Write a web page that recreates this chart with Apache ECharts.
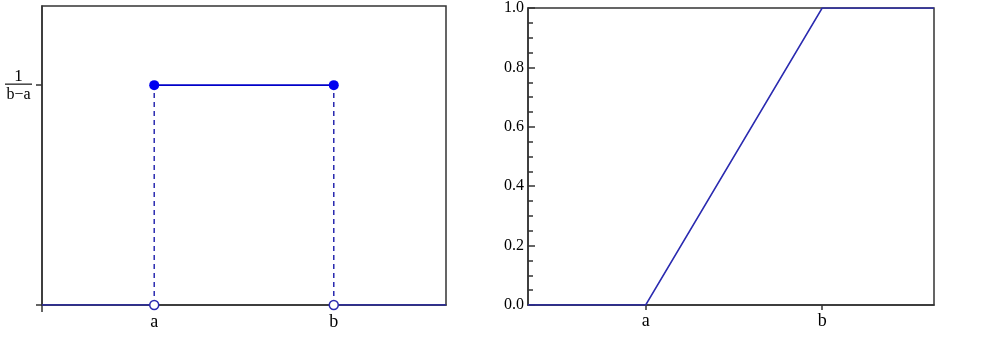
<!DOCTYPE html>
<html><head><meta charset="utf-8">
<script src="https://cdn.jsdelivr.net/npm/echarts@6/dist/echarts.min.js"></script>
<style>html,body{margin:0;padding:0;background:#fff}#c{width:1000px;height:344px}</style>
</head><body><div id="c"></div>
<script>
// ---- Left chart (PDF of uniform distribution) ----
const leftXRange = [0, 3.6];
const leftA = 1, leftB = 2.6;
const leftYMax = 1.36;
const pdfLevel = 1;            // value of 1/(b-a) on the plotted scale
const leftTopSegment = [[leftA, pdfLevel], [leftB, pdfLevel]];
const leftDashA = [[leftA, 0], [leftA, pdfLevel]];
const leftDashB = [[leftB, 0], [leftB, pdfLevel]];
const leftBaseLeft = [[leftXRange[0], 0], [leftA, 0]];
const leftBaseRight = [[leftB, 0], [leftXRange[1], 0]];
const leftOpenPoints = [[leftA, 0], [leftB, 0]];

// ---- Right chart (CDF) ----
const rightXRange = [0, 3.45];
const rightA = 1, rightB = 2.5;
const cdfPoints = [[0, 0], [rightA, 0], [rightB, 1], [3.45, 1]];

const serif = '"Liberation Serif","DejaVu Serif",serif';
const axisCol = '#333';
const lineBlue = '#2b2bb0';
const dotBlue = '#0000f0';

const chart = echarts.init(document.getElementById('c'));
chart.setOption({
  animation: false,
  grid: [
    { left: 42, top: 6, right: 554, bottom: 39, show: true, borderColor: axisCol, borderWidth: 1.5, backgroundColor: 'transparent' },
    { left: 528, top: 8, right: 66, bottom: 39, show: true, borderColor: axisCol, borderWidth: 1.5, backgroundColor: 'transparent' }
  ],
  xAxis: [
    { gridIndex: 0, type: 'value', min: leftXRange[0], max: leftXRange[1],
      axisLine: { show: true, onZero: false, lineStyle: { color: axisCol, width: 1.5 } },
      splitLine: { show: false },
      axisTick: { show: true, customValues: [leftXRange[0]], length: 7, lineStyle: { color: axisCol, width: 1.5 } },
      axisLabel: { customValues: [leftA, leftB], margin: 8, fontFamily: serif, fontSize: 18, color: '#000',
        formatter: v => (Math.abs(v - leftA) < 1e-9 ? 'a' : (Math.abs(v - leftB) < 1e-9 ? 'b' : '')) } },
    { gridIndex: 1, type: 'value', min: rightXRange[0], max: rightXRange[1],
      axisLine: { show: true, onZero: false, lineStyle: { color: axisCol, width: 1.5 } },
      splitLine: { show: false },
      axisTick: { show: true, customValues: [rightA, rightB], length: 5, lineStyle: { color: axisCol, width: 1.5 } },
      axisLabel: { customValues: [rightA, rightB], margin: 7, fontFamily: serif, fontSize: 18, color: '#000',
        formatter: v => (Math.abs(v - rightA) < 1e-9 ? 'a' : (Math.abs(v - rightB) < 1e-9 ? 'b' : '')) } }
  ],
  yAxis: [
    { gridIndex: 0, type: 'value', min: 0, max: leftYMax,
      axisLine: { show: true, lineStyle: { color: axisCol, width: 1.5 } },
      splitLine: { show: false },
      axisTick: { show: true, customValues: [0, pdfLevel], length: 6, lineStyle: { color: axisCol, width: 1.5 } },
      axisLabel: { customValues: [pdfLevel], margin: 10, color: '#000',
        formatter: () => '{n|1}\n{bar| }\n{d|b−a}',
        rich: {
          n: { fontFamily: serif, fontSize: 17, lineHeight: 16, padding: [4, 0, 0, 0], align: 'center' },
          bar: { fontSize: 1, width: 27, height: 1.2, lineHeight: 4, backgroundColor: '#111', align: 'center' },
          d: { fontFamily: serif, fontSize: 16, lineHeight: 18, align: 'center' }
        } } },
    { gridIndex: 1, type: 'value', min: 0, max: 1, interval: 0.2,
      axisLine: { show: true, lineStyle: { color: axisCol, width: 1.5 } },
      splitLine: { show: false },
      axisTick: { show: true, inside: true, length: 7, lineStyle: { color: axisCol, width: 1.5 } },
      minorTick: { show: true, splitNumber: 4, length: 5, lineStyle: { color: axisCol, width: 1.5 } },
      axisLabel: { margin: 4, fontFamily: serif, fontSize: 16, color: '#000', formatter: v => v.toFixed(1) } }
  ],
  series: [
    { type: 'line', xAxisIndex: 0, yAxisIndex: 0, data: leftBaseLeft, symbol: 'none', lineStyle: { color: lineBlue, width: 1.5 }, z: 3 },
    { type: 'line', xAxisIndex: 0, yAxisIndex: 0, data: leftBaseRight, symbol: 'none', lineStyle: { color: lineBlue, width: 1.5 }, z: 3 },
    { type: 'line', xAxisIndex: 0, yAxisIndex: 0, data: leftDashA, symbol: 'none', lineStyle: { color: lineBlue, width: 1.5, type: [5, 4] }, z: 3 },
    { type: 'line', xAxisIndex: 0, yAxisIndex: 0, data: leftDashB, symbol: 'none', lineStyle: { color: lineBlue, width: 1.5, type: [5, 4] }, z: 3 },
    { type: 'line', xAxisIndex: 0, yAxisIndex: 0, data: leftTopSegment, symbol: 'circle', symbolSize: 10, showAllSymbol: true,
      itemStyle: { color: dotBlue, borderWidth: 0 }, lineStyle: { color: '#0000c8', width: 1.8 }, z: 4 },
    { type: 'scatter', xAxisIndex: 0, yAxisIndex: 0, data: leftOpenPoints, symbol: 'circle', symbolSize: 9,
      itemStyle: { color: '#fff', borderColor: lineBlue, borderWidth: 1.5, opacity: 1 }, z: 5 },
    { type: 'line', xAxisIndex: 1, yAxisIndex: 1, data: cdfPoints, symbol: 'none', lineStyle: { color: lineBlue, width: 1.5 }, z: 3 }
  ]
});
</script></body></html>
